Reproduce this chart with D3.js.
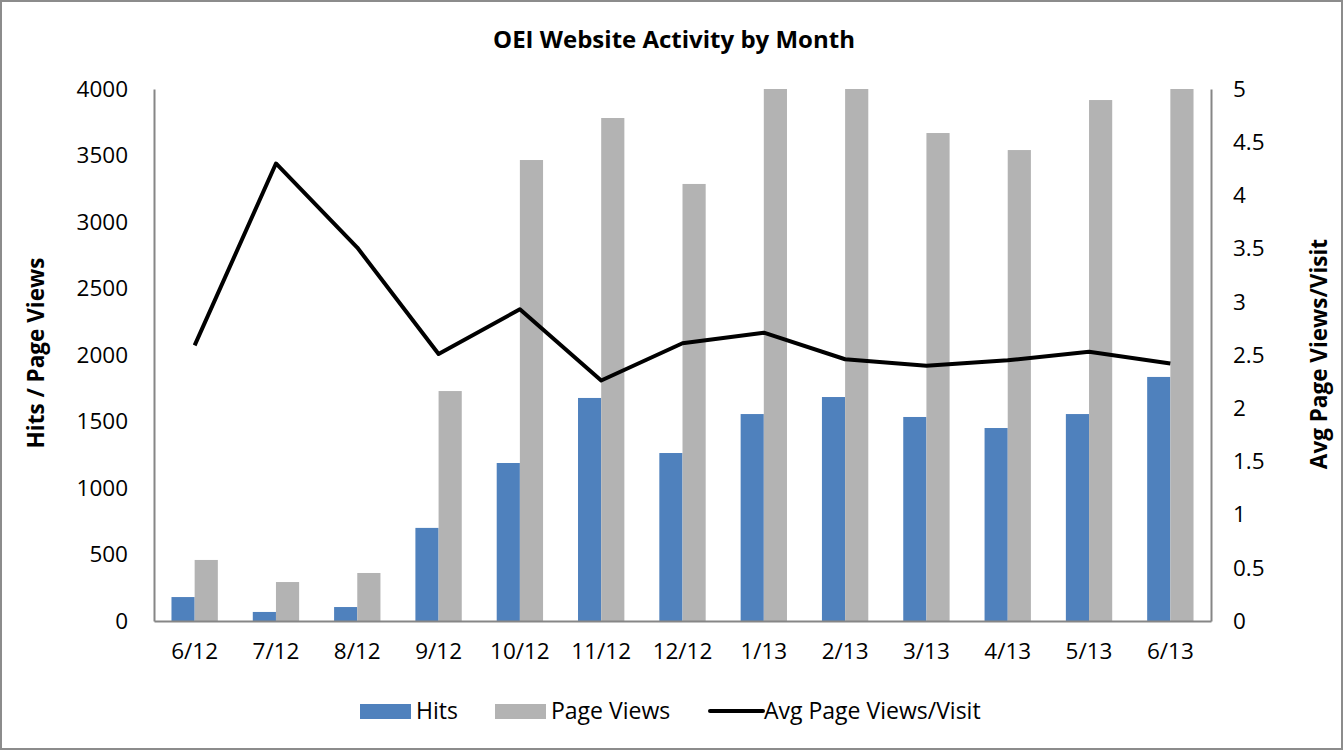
<!DOCTYPE html>
<html><head><meta charset="utf-8">
<script src="https://cdn.jsdelivr.net/npm/d3@7"></script>
<style>body{margin:0;background:#fff}svg{display:block}text{font-family:"Open Sans",sans-serif;fill:#000}</style>
</head><body><svg id="c" width="1343" height="750"></svg>
<script>
const months = ["6/12","7/12","8/12","9/12","10/12","11/12","12/12","1/13","2/13","3/13","4/13","5/13","6/13"];
const hits = [180,68,105,700,1188,1677,1263,1556,1684,1534,1451,1556,1835];
const pageViews = [459,293,361,1729,3466,3782,3286,4200,4143,3669,3541,3917,4441];
const avgPerVisit = [2.59,4.30,3.51,2.51,2.93,2.26,2.61,2.71,2.46,2.40,2.45,2.53,2.42];
const leftTicks = [0,500,1000,1500,2000,2500,3000,3500,4000];
const rightTicks = [0,0.5,1,1.5,2,2.5,3,3.5,4,4.5,5];

const svg = d3.select("#c");
const W=1343,H=750;
const m={l:154,r:1211,t:89,b:621};
svg.append("rect").attr("x",1).attr("y",1).attr("width",W-2).attr("height",H-2).attr("fill","#fff").attr("stroke","#8c8c8c").attr("stroke-width",2);

const x = d3.scaleBand().domain(months).range([m.l,m.r]).paddingInner(0).paddingOuter(0);
const y = d3.scaleLinear().domain([0,4000]).range([m.b,m.t]);
const y2 = d3.scaleLinear().domain([0,5]).range([m.b,m.t]);
const bw = x.bandwidth()*0.285;

svg.append("defs").append("clipPath").attr("id","clip").append("rect")
  .attr("x",m.l).attr("y",m.t).attr("width",m.r-m.l).attr("height",m.b-m.t);

const g = svg.append("g").attr("clip-path","url(#clip)");
g.selectAll(".h").data(months).join("rect")
  .attr("x",d=>x(d)+x.bandwidth()/2-bw).attr("width",bw)
  .attr("y",(d,i)=>y(hits[i])).attr("height",(d,i)=>y(0)-y(hits[i]))
  .attr("fill","#4f81bd");
g.selectAll(".p").data(months).join("rect")
  .attr("x",d=>x(d)+x.bandwidth()/2).attr("width",bw)
  .attr("y",(d,i)=>y(pageViews[i])).attr("height",(d,i)=>y(0)-y(pageViews[i]))
  .attr("fill","#b3b3b3");

// axes
const axL = svg.append("g").attr("transform",`translate(${m.l},0)`).call(d3.axisLeft(y).tickValues(leftTicks).tickSize(0).tickPadding(26).tickFormat(d3.format("d")));
const axR = svg.append("g").attr("transform",`translate(${m.r},0)`).call(d3.axisRight(y2).tickValues(rightTicks).tickSize(0).tickPadding(22).tickFormat(d=>String(d)));
const axB = svg.append("g").attr("transform",`translate(0,${m.b})`).call(d3.axisBottom(x).tickSize(0).tickPadding(22));
[axL,axR,axB].forEach(a=>{
  a.select(".domain").attr("stroke","#868686").attr("stroke-width",2);
  a.selectAll("text").style("font-size","22.5px").attr("fill","#000");
});

// line
const line = d3.line().x((d,i)=>x(months[i])+x.bandwidth()/2).y(d=>y2(d));
svg.append("path").datum(avgPerVisit).attr("d",line).attr("fill","none").attr("stroke","#000").attr("stroke-width",4).attr("stroke-linejoin","round");

// titles
svg.append("text").attr("x",674).attr("y",48).attr("text-anchor","middle").style("font-size","24px").style("font-weight","bold").text("OEI Website Activity by Month");
svg.append("text").attr("transform","translate(44,353) rotate(-90)").attr("text-anchor","middle").style("font-size","22.5px").style("font-weight","bold").text("Hits / Page Views");
svg.append("text").attr("transform","translate(1327,354) rotate(-90)").attr("text-anchor","middle").style("font-size","22.5px").style("font-weight","bold").text("Avg Page Views/Visit");

// legend
const lg = svg.append("g");
const items=[{t:"Hits",c:"#4f81bd",x:360,type:"rect"},{t:"Page Views",c:"#b3b3b3",x:495,type:"rect"},{t:"Avg Page Views/Visit",c:"#000",x:708,type:"line"}];
items.forEach(it=>{
  if(it.type==="rect") lg.append("rect").attr("x",it.x).attr("y",704).attr("width",51).attr("height",15).attr("fill",it.c);
  else lg.append("line").attr("x1",it.x+2).attr("x2",it.x+55).attr("y1",711).attr("y2",711).attr("stroke","#000").attr("stroke-width",4).attr("stroke-linecap","round");
  lg.append("text").attr("x",it.x+56).attr("y",711).attr("dy","0.35em").style("font-size","23px").text(it.t);
});
</script></body></html>
